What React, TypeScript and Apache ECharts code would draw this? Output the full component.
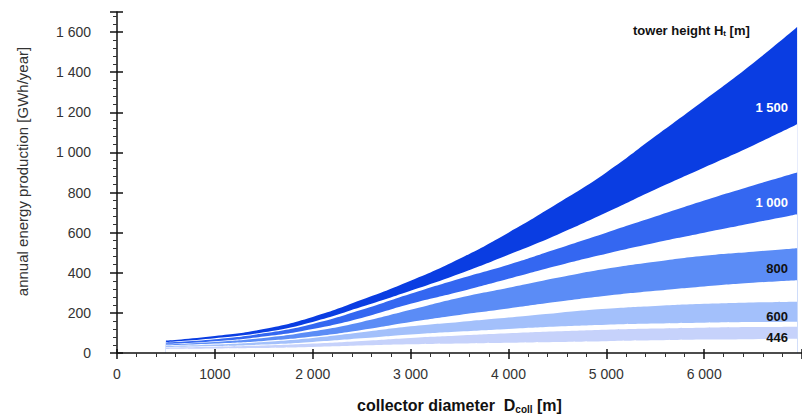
import React, { useEffect, useRef } from "react";
import * as echarts from "echarts";

// collector diameter D_coll [m]
const diameters = [500, 1000, 1500, 2000, 2500, 3000, 3500, 4000, 4500, 5000, 5500, 6000, 6500, 6950];

// annual energy production [GWh/year] — upper / lower edge of each tower-height band
const h1500Upper = [62, 85, 120, 180, 265, 360, 470, 600, 745, 900, 1080, 1260, 1445, 1625];
const h1500Lower = [54, 73, 103, 155, 230, 310, 395, 490, 590, 700, 815, 925, 1035, 1140];
const h1000Upper = [52, 68, 98, 145, 215, 295, 370, 440, 520, 600, 680, 760, 835, 900];
const h1000Lower = [45, 58, 82, 120, 175, 245, 305, 370, 435, 495, 550, 600, 648, 692];
const h800Upper = [43, 55, 75, 108, 155, 215, 275, 325, 375, 420, 455, 485, 505, 522];
const h800Lower = [38, 47, 60, 82, 115, 155, 190, 222, 255, 285, 310, 332, 350, 363];
const h600Upper = [35, 42, 55, 75, 103, 133, 155, 177, 200, 220, 234, 245, 252, 256];
const h600Lower = [30, 35, 42, 55, 73, 92, 107, 120, 132, 141, 147, 151, 154, 156];
const h446Upper = [27, 31, 37, 47, 60, 75, 87, 98, 108, 116, 122, 126, 129, 131];
const h446Lower = [20, 22, 25, 30, 37, 43, 47, 51, 55, 59, 63, 67, 69, 71];

const bandNames = ["1 500", "1 000", "800", "600", "446"];
const bandUppers = [h1500Upper, h1000Upper, h800Upper, h600Upper, h446Upper];
const bandLowers = [h1500Lower, h1000Lower, h800Lower, h600Lower, h446Lower];
const bandColors = ["#0a3de2", "#3467f1", "#5b8cf6", "#a3c0fb", "#c6d2fb"];
const bandLabelColors = ["#ffffff", "#ffffff", "#111111", "#111111", "#111111"];

const xTickValues = [0, 1000, 2000, 3000, 4000, 5000, 6000];
const xTickLabels = ["0", "1000", "2 000", "3 000", "4 000", "5 000", "6 000"];
const yTickValues = [0, 200, 400, 600, 800, 1000, 1200, 1400, 1600];
const yTickLabels = ["0", "200", "400", "600", "800", "1 000", "1 200", "1 400", "1 600"];

const FONT = "'Liberation Sans', Arial, sans-serif";

export default function App() {
  const ref = useRef<HTMLDivElement>(null);

  useEffect(() => {
    if (!ref.current) return;
    const chart = echarts.init(ref.current, undefined, { renderer: "svg" });

    const series: any[] = [];
    bandNames.forEach((name, i) => {
      series.push({
        name: name + " upper",
        type: "line",
        smooth: true,
        symbol: "none",
        silent: true,
        lineStyle: { width: 0 },
        areaStyle: { color: bandColors[i], opacity: 1 },
        data: diameters.map((d, j) => [d, bandUppers[i][j]]),
        z: 2,
      });
      series.push({
        name: name + " lower",
        type: "line",
        smooth: true,
        symbol: "none",
        silent: true,
        lineStyle: { width: 0 },
        areaStyle: { color: "#ffffff", opacity: 1 },
        data: diameters.map((d, j) => [d, bandLowers[i][j]]),
        z: 2,
      });
    });

    const labelY = [107, 202, 268, 316, 337];
    const labelSize = 13;
    const graphics: any[] = bandNames.map((n, i) => ({
      type: "text",
      right: 14,
      top: labelY[i] - labelSize / 2,
      z: 20,
      style: {
        text: n,
        fill: bandLabelColors[i],
        font: `bold ${labelSize}px ${FONT}`,
      },
    }));
    graphics.push({
      type: "text",
      left: 633,
      top: 24,
      z: 20,
      style: {
        text: "tower height H{s|t} [m]",
        fill: "#111",
        font: `bold 13px ${FONT}`,
        rich: {
          s: { fontSize: 8, fontWeight: "bold", fontFamily: FONT, fill: "#111", verticalAlign: "bottom", padding: [5, 0, 0, 0] },
        },
      },
    });

    const lineStyle = { color: "#111", width: 1.5 };
    const xLabelFmt = (v: number) => {
      const k = xTickValues.indexOf(v);
      return k >= 0 ? xTickLabels[k] : "";
    };
    const yLabelFmt = (v: number) => {
      const k = yTickValues.indexOf(v);
      return k >= 0 ? yTickLabels[k] : "";
    };

    chart.setOption({
      animation: false,
      backgroundColor: "#ffffff",
      grid: { left: 117, right: -6, top: 12, bottom: 62, containLabel: false },
      xAxis: [
        {
          type: "value",
          min: 0,
          max: 7000,
          interval: 1000,
          z: 10,
          name: "collector diameter  D{sub|coll} [m]",
          nameLocation: "middle",
          nameGap: 44,
          nameTextStyle: {
            fontFamily: FONT,
            fontSize: 16,
            fontWeight: "bold",
            color: "#111",
            rich: {
              sub: { fontFamily: FONT, fontSize: 10, fontWeight: "bold", color: "#111", verticalAlign: "bottom", padding: [7, 0, 0, 0] },
            },
          },
          axisLine: { show: true, onZero: false, lineStyle },
          axisTick: { show: true, length: 6, lineStyle: { color: "#111", width: 1.5 } },
          minorTick: { show: true, splitNumber: 5, length: 4, lineStyle: { color: "#333", width: 1 } },
          axisLabel: {
            formatter: xLabelFmt,
            showMaxLabel: false,
            margin: 14,
            fontFamily: FONT,
            fontSize: 14,
            color: "#333",
          },
          splitLine: { show: false },
        },
        {
          type: "value",
          min: 0,
          max: 7000,
          interval: 1000,
          position: "bottom",
          z: 10,
          axisLine: { show: false },
          axisTick: { show: true, inside: true, length: 4, lineStyle: { color: "#111", width: 1.5 } },
          axisLabel: { show: false },
          splitLine: { show: false },
        },
      ],
      yAxis: [
        {
          type: "value",
          min: 0,
          max: 1700,
          interval: 200,
          z: 10,
          name: "annual energy production [GWh/year]",
          nameLocation: "middle",
          nameGap: 87,
          nameTextStyle: { fontFamily: FONT, fontSize: 15, color: "#333", padding: [0, 0, 0, 22] },
          axisLine: { show: true, onZero: false, lineStyle },
          axisTick: { show: true, length: 7, lineStyle: { color: "#111", width: 1.5 } },
          minorTick: { show: true, splitNumber: 5, length: 4, lineStyle: { color: "#333", width: 1 } },
          axisLabel: {
            formatter: yLabelFmt,
            showMaxLabel: false,
            margin: 26,
            fontFamily: FONT,
            fontSize: 14,
            color: "#333",
          },
          splitLine: { show: false },
        },
        {
          type: "value",
          min: 0,
          max: 1700,
          interval: 200,
          position: "left",
          z: 10,
          axisLine: { show: false },
          axisTick: { show: true, inside: true, length: 6, lineStyle: { color: "#111", width: 1.5 } },
          axisLabel: { show: false },
          splitLine: { show: false },
        },
      ],
      series,
      graphic: graphics,
    });

    return () => chart.dispose();
  }, []);

  return (
    <div
      ref={ref}
      style={{ position: "fixed", left: 0, top: 0, width: 802, height: 419, background: "#fff" }}
    />
  );
}
